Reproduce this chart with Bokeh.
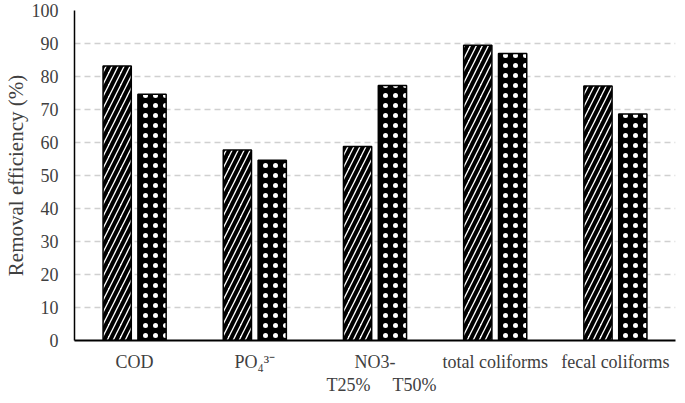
from bokeh.plotting import figure
from bokeh.layouts import column
from bokeh.models import ColumnDataSource, FactorRange, Legend, LegendItem, Range1d, CDSView, IndexFilter
from bokeh.transform import dodge
from bokeh.embed import file_html
from bokeh.resources import INLINE

categories = ["COD", "PO\u2084\u00b3\u207b", "NO3-", "total coliforms", "fecal coliforms"]
t25 = [83.2, 57.7, 58.8, 89.5, 77.1]
t50 = [74.6, 54.6, 77.3, 87.0, 68.6]
series_names = ["T25%", "T50%"]
y_ticks = list(range(0, 101, 10))

src = ColumnDataSource(data=dict(cat=categories, t25=t25, t50=t50))

FONT = "Liberation Serif"

T25_STYLE = dict(fill_color="white", line_color="black", line_width=1.5,
                 hatch_pattern="/", hatch_color="black", hatch_scale=12, hatch_weight=4)
T50_STYLE = dict(fill_color="black", line_color="black", line_width=1.5,
                 hatch_pattern=".", hatch_color="white", hatch_scale=10, hatch_weight=1)

p = figure(x_range=FactorRange(*categories), y_range=Range1d(0, 100),
           width=677, height=374, output_backend="svg", toolbar_location=None,
           min_border_top=10, min_border_right=2, min_border_left=0, min_border_bottom=0)

p.vbar(x=dodge("cat", -0.145, range=p.x_range), top="t25", width=0.235, source=src, **T25_STYLE)
p.vbar(x=dodge("cat", 0.145, range=p.x_range), top="t50", width=0.235, source=src, **T50_STYLE)

p.x_range.range_padding = 0
p.x_range.factor_padding = 0

p.yaxis.ticker = y_ticks
p.yaxis.axis_label = "Removal efficiency (%)"
p.yaxis.axis_label_text_font = FONT
p.yaxis.axis_label_text_font_style = "normal"
p.yaxis.axis_label_text_font_size = "21px"
p.yaxis.axis_label_text_color = "#404040"
p.yaxis.axis_label_standoff = 1
p.yaxis.major_label_text_font = FONT
p.yaxis.major_label_text_font_size = "18px"
p.yaxis.major_label_text_color = "#404040"
p.yaxis.major_tick_line_color = None
p.yaxis.minor_tick_line_color = None
p.yaxis.axis_line_color = "black"
p.yaxis.axis_line_width = 1.5
p.yaxis.major_label_standoff = 10

p.xaxis.major_label_text_font = FONT
p.xaxis.major_label_text_font_size = "18px"
p.xaxis.major_label_text_color = "#404040"
p.xaxis.major_tick_line_color = None
p.xaxis.axis_line_color = "black"
p.xaxis.axis_line_width = 2
p.xaxis.major_label_standoff = 5

p.xgrid.grid_line_color = None
p.ygrid.grid_line_color = "#d0d0d0"
p.ygrid.grid_line_dash = "6 4"
p.ygrid.grid_line_width = 1.3
p.outline_line_color = None

# legend strip below the chart: same series, filtered to nothing so only the legend shows
lg = figure(width=677, height=22, output_backend="svg", toolbar_location=None,
            x_range=p.x_range, y_range=Range1d(1000, 1001),
            min_border_top=0, min_border_bottom=0, min_border_left=0, min_border_right=0)
lg.axis.visible = False
lg.grid.visible = False
lg.outline_line_color = None
none_view1 = CDSView(filter=IndexFilter([]))
none_view2 = CDSView(filter=IndexFilter([]))
l1 = lg.vbar(x="cat", top="t25", width=0.235, source=src, view=none_view1, **T25_STYLE)
l2 = lg.vbar(x="cat", top="t50", width=0.235, source=src, view=none_view2, **T50_STYLE)
legend = Legend(items=[LegendItem(label=series_names[0], renderers=[l1]),
                       LegendItem(label=series_names[1], renderers=[l2])],
                orientation="horizontal", location="center",
                label_text_font=FONT, label_text_font_size="18px", label_text_color="#404040",
                glyph_width=12, glyph_height=12, spacing=8, label_standoff=2,
                padding=0, margin=0, border_line_color=None, background_fill_alpha=0)
lg.add_layout(legend, "center")

layout = column(p, lg, spacing=0)
open("out.html", "w").write(file_html(layout, INLINE))
